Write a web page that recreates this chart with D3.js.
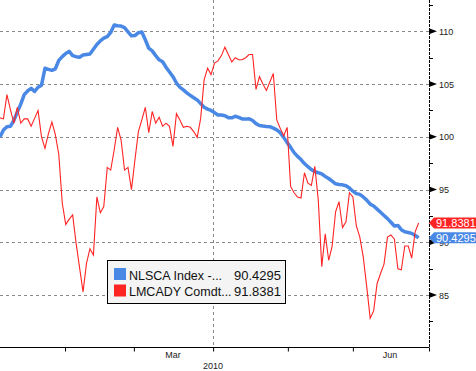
<!DOCTYPE html>
<html>
<head>
<meta charset="UTF-8">
<title>NLSCA vs LMCADY</title>
<style type="text/css">
    body { margin: 0; background: #ffffff; font-family: 'Liberation Sans', Arial, sans-serif; }
    .axis-label { font-size: 9px; fill: #222; }
    .legend text { font-size: 13px; fill: #111; }
    .legend text.name { font-size: 12.5px; }
    .tag text { font-size: 11px; fill: #ffffff; }
</style>
</head>
<body>
<script src="https://d3js.org/d3.v7.min.js"></script>
<script type="text/javascript">
    // daily closes, one value per trading day (index 0 = first day shown)
    const nlscaValues = [
        100.0, 100.65, 100.96, 101.0, 101.55, 102.35, 103.1, 104.0, 104.35, 104.6,
        104.3, 104.7, 104.9, 106.5, 106.4, 106.3, 106.45, 107.25, 107.6, 107.9,
        108.1, 107.7, 107.6, 107.55, 107.75, 107.8, 107.85, 108.3, 108.75, 109.1,
        109.35, 109.5, 109.9, 110.6, 110.53, 110.5, 110.35, 109.95, 109.57, 109.6,
        109.87, 109.93, 109.2, 108.4, 108.15, 107.7, 107.3, 107.12, 106.6, 106.15,
        105.7, 105.1, 104.7, 104.44, 104.17, 103.93, 103.7, 103.5, 103.15, 102.8,
        102.63, 102.5, 102.3, 102.07, 102.07, 102.0, 101.82, 101.8, 101.95, 101.85,
        101.7, 101.68, 101.72, 101.55, 101.25, 101.08, 101.03, 100.99, 100.96, 100.83,
        100.66, 100.4, 99.95, 99.45, 99.0, 98.5, 98.15, 97.85, 97.47, 97.17,
        96.9, 96.7, 96.6, 96.48, 96.25, 96.05, 95.8, 95.55, 95.48, 95.45,
        95.37, 95.15, 94.85, 94.62, 94.55, 94.3, 94.0, 93.62, 93.45, 93.15,
        92.85, 92.55, 92.25, 91.9, 91.55, 91.6, 91.2, 91.0, 90.93, 90.85,
        90.65, 90.4295
    ];

    const lmcadyValues = [
        101.8, 101.7, 104.0, 102.6, 101.3, 102.8, 101.3, 101.7, 101.7, 101.0,
        101.75, 102.5, 100.0, 98.9, 100.3, 101.4, 100.2, 98.3, 93.7, 91.7,
        92.2, 92.6, 89.9, 87.6, 85.3, 88.0, 89.4, 88.8, 94.3, 92.8,
        93.4, 97.1, 96.85, 98.75, 100.9, 99.7, 96.85, 97.1, 95.0, 97.8,
        100.5, 101.6, 102.8, 100.4, 102.4, 101.3, 101.85, 101.0, 101.3, 101.0,
        99.1, 102.2, 101.6, 100.9, 101.0, 100.9, 100.5, 99.95, 101.75, 105.4,
        106.5, 105.9, 107.0, 107.2, 107.7, 108.5, 107.8, 107.1, 107.5, 107.3,
        107.3, 107.5, 107.8, 107.8, 104.5, 105.7, 105.0, 104.4, 105.2, 106.0,
        101.6, 100.8, 100.1, 100.9, 95.3, 94.7, 94.3, 94.2, 96.6, 95.6,
        95.4, 97.2, 94.0, 87.7, 90.8, 88.3, 89.65, 92.9, 93.85, 91.4,
        91.95, 94.7, 94.3, 91.55, 90.5, 88.6, 85.8, 82.8, 83.5, 86.1,
        87.05, 87.94, 90.5, 90.7, 90.3, 87.5, 87.4, 89.65, 89.65, 88.5,
        91.0, 91.8381
    ];

    const seriesNames = ['NLSCA Index -...', 'LMCADY Comdt...'];
    const lastValues = ['90.4295', '91.8381'];

    // month boundaries on the time axis (trading-day positions)
    const monthTicks = [18.8, 38.7, 61.6, 83.2, 102, 124];
    const monthLabels = [{ day: 50, text: 'Mar' }, { day: 112.7, text: 'Jun' }];
    const yearLabel = { day: 61.6, text: '2010' };

    const majorTicks = [85, 90, 95, 100, 105, 110];
    const minorTicks = [82.5, 87.5, 92.5, 97.5, 102.5, 107.5, 112.5];

    const blue = '#4a88e6',
          red = '#ff2424';

    const width = 476, height = 371;
    const plotRight = 429, plotBottom = 347;

    const svg = d3.select('body').append('svg')
                  .attr('width', width)
                  .attr('height', height);

    const x = d3.scaleLinear().domain([0, 124]).range([0, plotRight]);
    const y = d3.scaleLinear().domain([80.08, 112.97]).range([plotBottom, 0]);

    // gridlines
    svg.append('g')
       .selectAll('line')
       .data(majorTicks)
       .enter()
       .append('line')
       .attr('x1', 0)
       .attr('x2', plotRight)
       .attr('y1', d => Math.round(y(d)) + 0.5)
       .attr('y2', d => Math.round(y(d)) + 0.5)
       .attr('stroke', '#8a8a8a')
       .attr('stroke-dasharray', '3,3');

    svg.append('line')
       .attr('x1', Math.round(x(yearLabel.day)) + 0.5)
       .attr('x2', Math.round(x(yearLabel.day)) + 0.5)
       .attr('y1', 0)
       .attr('y2', plotBottom)
       .attr('stroke', '#8a8a8a')
       .attr('stroke-dasharray', '3,3');

    // lines
    const line = d3.line()
                   .x((d, i) => x(i))
                   .y(d => y(d));

    svg.append('path')
       .datum(nlscaValues)
       .attr('fill', 'none')
       .attr('stroke', blue)
       .attr('stroke-width', 3.5)
       .attr('stroke-linejoin', 'round')
       .attr('d', line);

    svg.append('path')
       .datum(lmcadyValues)
       .attr('fill', 'none')
       .attr('stroke', red)
       .attr('stroke-width', 1.1)
       .attr('d', line);

    // bottom axis
    const xAxis = d3.axisBottom(x)
                    .tickValues(monthTicks)
                    .tickSize(4)
                    .tickFormat('');
    const gx = svg.append('g')
                  .attr('transform', `translate(0,${plotBottom + 0.5})`)
                  .call(xAxis);
    gx.select('.domain').attr('stroke', '#000').attr('d', `M0,0H${plotRight}`);
    gx.selectAll('.tick line').attr('stroke', '#000');

    svg.selectAll('.month-label')
       .data(monthLabels)
       .enter()
       .append('text')
       .attr('class', 'axis-label')
       .attr('x', d => x(d.day))
       .attr('y', 358)
       .attr('text-anchor', 'middle')
       .text(d => d.text);

    svg.append('text')
       .attr('class', 'axis-label')
       .attr('x', x(yearLabel.day))
       .attr('y', 369)
       .attr('text-anchor', 'middle')
       .text(yearLabel.text);

    // right axis
    svg.append('line')
       .attr('x1', plotRight + 0.5)
       .attr('x2', plotRight + 0.5)
       .attr('y1', 0)
       .attr('y2', plotBottom + 3)
       .attr('stroke', '#000')
       .attr('stroke-dasharray', '3,1');

    svg.append('g')
       .selectAll('line')
       .data(minorTicks)
       .enter()
       .append('line')
       .attr('x1', plotRight)
       .attr('x2', plotRight + 4)
       .attr('y1', d => Math.round(y(d)) + 0.5)
       .attr('y2', d => Math.round(y(d)) + 0.5)
       .attr('stroke', '#000');

    const yTicks = svg.append('g')
                      .selectAll('g')
                      .data(majorTicks)
                      .enter()
                      .append('g')
                      .attr('transform', d => `translate(${plotRight},${y(d)})`);

    yTicks.append('path')
          .attr('d', 'M0,-3L8,0L0,3Z')
          .attr('fill', '#000');

    yTicks.append('text')
          .attr('class', 'axis-label')
          .attr('x', 10)
          .attr('y', 3.5)
          .text(d => d);

    // last value tags
    const tags = svg.selectAll('.tag')
                    .data([
                        { value: lmcadyValues[lmcadyValues.length - 1], text: lastValues[1], color: red },
                        { value: nlscaValues[nlscaValues.length - 1], text: lastValues[0], color: blue }
                    ])
                    .enter()
                    .append('g')
                    .attr('class', 'tag')
                    .attr('transform', d => `translate(${plotRight},${y(d.value)})`);

    tags.append('path')
        .attr('d', 'M0,0L5,-5.5H47V5.5H5Z')
        .attr('fill', d => d.color);

    tags.append('text')
        .attr('x', 7)
        .attr('y', 4)
        .text(d => d.text);

    // legend
    const legend = svg.append('g').attr('class', 'legend');

    legend.append('rect')
          .attr('x', 107.5)
          .attr('y', 260.5)
          .attr('width', 178)
          .attr('height', 43)
          .attr('fill', '#f4f4f4')
          .attr('stroke', '#000');

    [blue, red].forEach((c, i) => {
        legend.append('rect')
              .attr('x', 114)
              .attr('y', 268 + i * 16.5)
              .attr('width', 12)
              .attr('height', 12)
              .attr('fill', c);

        legend.append('text')
              .attr('class', 'name')
              .attr('x', 129)
              .attr('y', 279.5 + i * 16.5)
              .text(seriesNames[i]);

        legend.append('text')
              .attr('x', 281)
              .attr('y', 279.5 + i * 16.5)
              .attr('text-anchor', 'end')
              .text(lastValues[i]);
    });
</script>
</body>
</html>
